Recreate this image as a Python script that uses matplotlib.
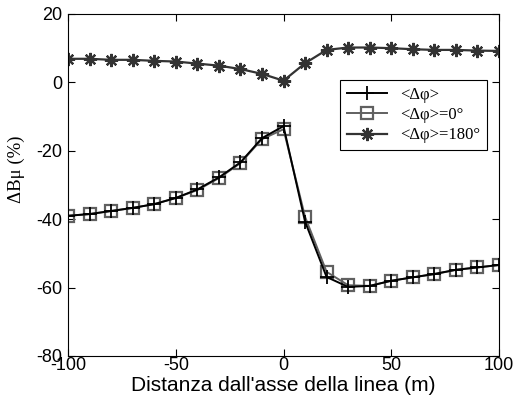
import numpy as np
import matplotlib
matplotlib.use('Agg')
import matplotlib.pyplot as plt

plt.rcParams['font.family'] = ['Liberation Sans', 'DejaVu Sans']
plt.rcParams['axes.unicode_minus'] = False

# distanza dall'asse (m)
dist = [-100, -90, -80, -70, -60, -50, -40, -30, -20, -10, 0,
        10, 20, 30, 40, 50, 60, 70, 80, 90, 100]
# <dphi>
dphi_mean = [-39.0, -38.5, -37.6, -36.7, -35.6, -33.8, -31.3, -27.8, -23.4, -16.3, -12.8,
             -40.7, -56.9, -59.8, -59.5, -58.0, -57.0, -56.0, -54.8, -54.1, -53.4]
# <dphi>=0
dphi_0 = [-39.0, -38.5, -37.6, -36.7, -35.6, -33.8, -31.5, -28.0, -23.6, -16.6, -13.7,
          -39.3, -55.4, -59.3, -59.5, -58.0, -57.0, -56.1, -54.8, -54.1, -53.4]
# <dphi>=180
dphi_180 = [6.9, 6.9, 6.6, 6.6, 6.3, 6.1, 5.5, 4.9, 3.9, 2.5, 0.5,
            5.6, 9.5, 10.2, 10.2, 10.0, 9.7, 9.5, 9.5, 9.3, 9.2]

fig = plt.figure(figsize=(5.28, 4.05), dpi=100)
ax = fig.add_axes([68/528, 1-356/405, 431/528, 342/405])

ax.plot(dist, dphi_0, '-s', color='#606060', markersize=8, markerfacecolor='none',
        markeredgewidth=1.6, linewidth=1.4, label='<Δφ>=0°')
ax.plot(dist, dphi_mean, '-+', color='black', markersize=10, markeredgewidth=1.3,
        linewidth=1.4, label='<Δφ>')
ax.plot(dist, dphi_180, color='#333333', markersize=9.5, markeredgewidth=1.6,
        linewidth=1.6, marker=(8, 2, 0), label='<Δφ>=180°')

ax.set_xlim(-100, 100)
ax.set_ylim(-80, 20)
ax.set_xticks([-100, -50, 0, 50, 100])
ax.set_yticks([-80, -60, -40, -20, 0, 20])
ax.tick_params(direction='in', top=True, right=True, labelsize=13, length=5)
ax.tick_params(axis='y', pad=4)
ax.tick_params(axis='x', pad=1)
for s in ax.spines.values():
    s.set_linewidth(0.8)

ax.set_xlabel("Distanza dall'asse della linea (m)", fontsize=15, labelpad=1)
ax.set_ylabel('ΔBμ (%)', fontsize=13.5, family=['Liberation Serif', 'DejaVu Serif'])
ax.yaxis.set_label_coords(-0.1, 0.545)

h, l = ax.get_legend_handles_labels()
order = [1, 0, 2]
leg = ax.legend([h[i] for i in order], [l[i] for i in order], loc='upper left',
                bbox_to_anchor=(0.612, 0.83), fancybox=False, edgecolor='black',
                prop={'family': ['Liberation Serif', 'DejaVu Serif'], 'size': 12},
                borderpad=0.4, handlelength=2.4, labelspacing=0.25, framealpha=1)
leg.get_frame().set_linewidth(0.8)

fig.savefig('out.png', dpi=100)
